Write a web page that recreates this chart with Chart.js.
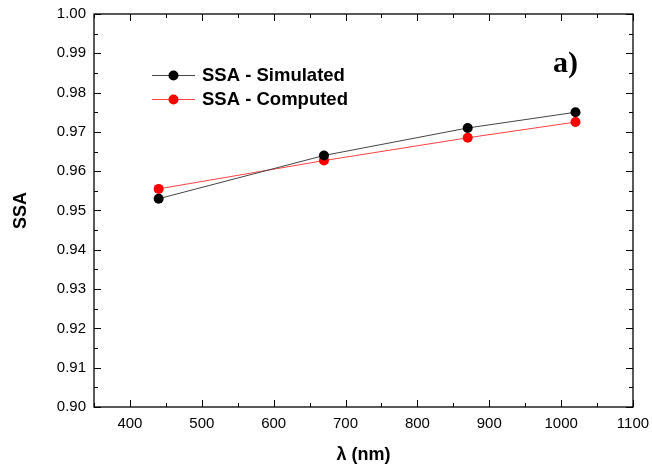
<!DOCTYPE html>
<html>
<head>
<meta charset="utf-8">
<script src="https://cdn.jsdelivr.net/npm/chart.js@4/dist/chart.umd.min.js"></script>
<style>
  html, body { margin: 0; padding: 0; background: #fff; }
  #wrap { width: 652px; height: 471px; position: relative; }
</style>
</head>
<body>
<div id="wrap"><canvas id="c"></canvas></div>
<script>
// SSA vs wavelength, simulated vs computed (panel a)
const wavelengths = [440, 670, 870, 1020];
const ssaSimulated = [0.953, 0.964, 0.971, 0.975];
const ssaComputed = [0.9555, 0.9627, 0.9685, 0.9725];
const xTicks = [400, 500, 600, 700, 800, 900, 1000, 1100];
const yTicks = [0.90, 0.91, 0.92, 0.93, 0.94, 0.95, 0.96, 0.97, 0.98, 0.99, 1.00];

const FONT = "'Liberation Sans', Arial, sans-serif";

// frame, inward major/minor ticks on all four sides, legend and panel label
const frame = {
  id: "frame",
  afterDraw(chart) {
    const {ctx, chartArea: a, scales: {x, y}} = chart;
    ctx.save();
    ctx.strokeStyle = "#000"; ctx.lineWidth = 1.3;
    ctx.strokeRect(a.left, a.top, a.right - a.left, a.bottom - a.top);
    ctx.lineWidth = 1;
    const tick = (x1, y1, x2, y2) => { ctx.beginPath(); ctx.moveTo(x1, y1); ctx.lineTo(x2, y2); ctx.stroke(); };
    for (let v = 350; v <= 1100; v += 50) {
      const px = Math.round(x.getPixelForValue(v)) + 0.5, len = v % 100 === 0 ? 7 : 4;
      tick(px, a.bottom, px, a.bottom - len); tick(px, a.top, px, a.top + len);
    }
    for (let i = 0; i <= 20; i++) {
      const v = 0.90 + i * 0.005, py = Math.round(y.getPixelForValue(v)) + 0.5, len = i % 2 === 0 ? 7 : 4;
      tick(a.left, py, a.left + len, py); tick(a.right, py, a.right - len, py);
    }
    // legend
    chart.data.datasets.forEach((ds, i) => {
      const ly = 75 + i * 24, lx = 152;
      ctx.strokeStyle = ds.borderColor; ctx.lineWidth = 1;
      tick(lx, ly + 0.5, lx + 43, ly + 0.5);
      ctx.fillStyle = ds.pointBackgroundColor;
      ctx.beginPath(); ctx.arc(lx + 21.5, ly + 0.5, 5, 0, Math.PI * 2); ctx.fill();
      ctx.fillStyle = "#000"; ctx.font = "bold 18.5px " + FONT; ctx.textBaseline = "middle"; ctx.textAlign = "left";
      ctx.fillText(ds.label, lx + 50, ly + 1);
    });
    ctx.font = "bold 30px 'Liberation Serif', 'Times New Roman', serif";
    ctx.textAlign = "left"; ctx.textBaseline = "alphabetic";
    ctx.fillText("a)", 553, 72);
    ctx.restore();
  }
};

new Chart(document.getElementById("c"), {
  type: "line",
  data: {
    datasets: [
      {label: "SSA - Simulated", data: wavelengths.map((w, i) => ({x: w, y: ssaSimulated[i]})),
       borderColor: "#444", borderWidth: 1, pointBackgroundColor: "#000", pointBorderColor: "#000",
       pointRadius: 5, pointBorderWidth: 0, tension: 0},
      {label: "SSA - Computed", data: wavelengths.map((w, i) => ({x: w, y: ssaComputed[i]})),
       borderColor: "#ff4040", borderWidth: 1, pointBackgroundColor: "#ff0000", pointBorderColor: "#ff0000",
       pointRadius: 5, pointBorderWidth: 0, tension: 0},
    ]
  },
  options: {
    responsive: true, maintainAspectRatio: false, animation: false,
    layout: {padding: {top: 14, right: 19, left: 0, bottom: 0}},
    plugins: {legend: {display: false}, tooltip: {enabled: false}},
    scales: {
      x: {
        type: "linear", min: 350, max: 1100,
        afterBuildTicks: s => { s.ticks = xTicks.map(v => ({value: v})); },
        afterFit: s => { s.height = 64; s.paddingLeft = 0; s.paddingRight = 0; },
        grid: {display: false, drawTicks: false}, border: {display: false},
        ticks: {color: "#000", font: {family: FONT, size: 15}, padding: 8, callback: v => String(v)},
        title: {display: true, text: "λ (nm)", color: "#000", font: {family: FONT, size: 18, weight: "bold"}, padding: {top: 0, bottom: 5}}
      },
      y: {
        min: 0.90, max: 1.00,
        afterBuildTicks: s => { s.ticks = yTicks.map(v => ({value: v})); },
        afterFit: s => { s.width = 94; s.paddingTop = 0; s.paddingBottom = 0; },
        grid: {display: false, drawTicks: false}, border: {display: false},
        ticks: {color: "#000", font: {family: FONT, size: 15}, padding: 8, callback: v => v.toFixed(2)},
        title: {display: true, text: "SSA", color: "#000", font: {family: FONT, size: 18, weight: "bold"}, padding: {top: 10, bottom: 0}}
      }
    }
  },
  plugins: [frame]
});
</script>
</body>
</html>
